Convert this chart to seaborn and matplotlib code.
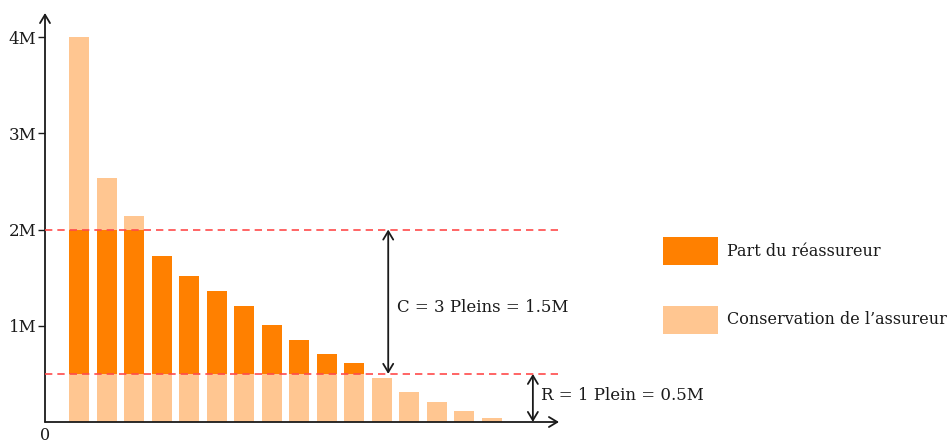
import numpy as np
import matplotlib
matplotlib.use("Agg")
import matplotlib.pyplot as plt
import seaborn as sns
from matplotlib.patches import Rectangle

# sinistres (en millions), du plus grand au plus petit
sinistres = [4.0, 2.54, 2.14, 1.72, 1.52, 1.36, 1.21, 1.01, 0.85, 0.71, 0.61,
             0.46, 0.31, 0.21, 0.11, 0.04]
retention = 0.5      # R = 1 plein
plafond = 2.0        # R + C
y_ticks = [1, 2, 3, 4]
y_labels = ["1M", "2M", "3M", "4M"]
legend_labels = ["Part du réassureur", "Conservation de l\u2019assureur"]

dark = "#FF8000"
light = "#FFC691"
red = "#FF4A4A"
ink = "#1a1a1a"

sns.set_style("white")
plt.rcParams["font.family"] = ["DejaVu Serif"]
plt.rcParams["font.size"] = 12

fig = plt.figure(figsize=(9.5, 4.45), dpi=100)
W, H = 950, 445
ax = fig.add_axes([45 / W, 23 / H, 514 / W, 409 / H])

x = list(range(len(sinistres)))
haut_reass = [min(s, plafond) for s in sinistres]
bas_cons = [min(s, retention) for s in sinistres]

# couches : total (clair), part du réassureur jusqu'au plafond (foncé), rétention (clair)
for vals, col in [(sinistres, light), (haut_reass, dark), (bas_cons, light)]:
    sns.barplot(x=x, y=vals, color=col, saturation=1, width=0.73,
                errorbar=None, linewidth=0, ax=ax)

x0, x1 = -1.24, 17.45
ax.set_xlim(x0, x1)
ax.set_ylim(0, 4.25)
for s in ax.spines.values():
    s.set_visible(False)

# lignes pointillées R et R + C
ax.hlines([retention, plafond], x0, 17.4, colors=red, linewidth=1.2,
          linestyles=(0, (4.4, 3)), zorder=5)

# axes fléchés
head = "->,head_length=0.5,head_width=0.3"
ax.annotate("", xy=(x1, 0), xytext=(x0, 0), annotation_clip=False,
            arrowprops=dict(arrowstyle=head, lw=1.3, color=ink,
                            shrinkA=0, shrinkB=0, mutation_scale=12))
ax.annotate("", xy=(x0, 4.25), xytext=(x0, 0), annotation_clip=False,
            arrowprops=dict(arrowstyle=head, lw=1.3, color=ink,
                            shrinkA=0, shrinkB=0, mutation_scale=12))

ax.set_xticks([])
ax.set_yticks(y_ticks)
ax.set_yticklabels(y_labels)
ax.tick_params(axis="y", direction="out", length=5, width=1, color=ink,
               labelcolor=ink, pad=1, labelsize=12, left=True)
ax.set_xlabel("")
ax.set_ylabel("")
ax.text(x0, -0.185, "0", ha="center", va="baseline", color=ink, fontsize=11.5)

# flèches C et R
dbl = "<->,head_length=0.5,head_width=0.3"
ax.annotate("", xy=(11.24, plafond), xytext=(11.24, retention),
            arrowprops=dict(arrowstyle=dbl, lw=1.3, color=ink,
                            shrinkA=0, shrinkB=0, mutation_scale=12))
ax.annotate("", xy=(16.5, retention), xytext=(16.5, 0),
            arrowprops=dict(arrowstyle=dbl, lw=1.3, color=ink,
                            shrinkA=0, shrinkB=0, mutation_scale=12))
ax.text(11.56, 1.19, "C = 3 Pleins = 1.5M", ha="left", va="center", color=ink)
ax.text(16.8, 0.28, "R = 1 Plein = 0.5M", ha="left", va="center", color=ink,
        clip_on=False)

# légende
for (top, col, lab) in [(237, dark, legend_labels[0]), (306, light, legend_labels[1])]:
    fig.add_artist(Rectangle((663 / W, 1 - (top + 28) / H), 55 / W, 28 / H,
                             transform=fig.transFigure, facecolor=col,
                             edgecolor="none"))
    fig.text(727 / W, 1 - (top + 14) / H, lab, ha="left", va="center",
             color=ink, fontsize=11.5)

fig.savefig("out.png", dpi=100)
